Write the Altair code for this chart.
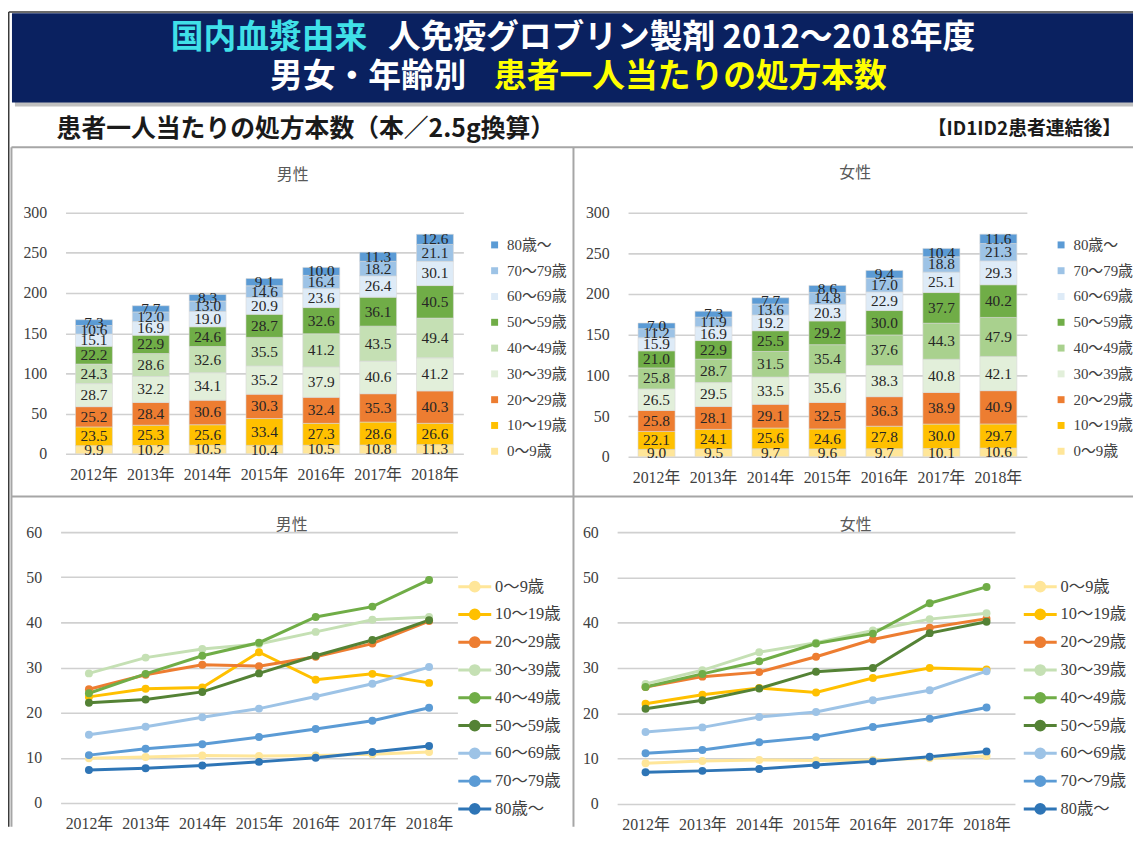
import altair as alt
import pandas as pd

YEARS = ["2012年", "2013年", "2014年", "2015年", "2016年", "2017年", "2018年"]
AGES = ["0〜9歳", "10〜19歳", "20〜29歳", "30〜39歳", "40〜49歳",
        "50〜59歳", "60〜69歳", "70〜79歳", "80歳〜"]

# 男性
M_00 = [9.9, 10.2, 10.5, 10.4, 10.5, 10.8, 11.3]
M_10 = [23.5, 25.3, 25.6, 33.4, 27.3, 28.6, 26.6]
M_20 = [25.2, 28.4, 30.6, 30.3, 32.4, 35.3, 40.3]
M_30 = [28.7, 32.2, 34.1, 35.2, 37.9, 40.6, 41.2]
M_40 = [24.3, 28.6, 32.6, 35.5, 41.2, 43.5, 49.4]
M_50 = [22.2, 22.9, 24.6, 28.7, 32.6, 36.1, 40.5]
M_60 = [15.1, 16.9, 19.0, 20.9, 23.6, 26.4, 30.1]
M_70 = [10.6, 12.0, 13.0, 14.6, 16.4, 18.2, 21.1]
M_80 = [7.3, 7.7, 8.3, 9.1, 10.0, 11.3, 12.6]

# 女性
F_00 = [9.0, 9.5, 9.7, 9.6, 9.7, 10.1, 10.6]
F_10 = [22.1, 24.1, 25.6, 24.6, 27.8, 30.0, 29.7]
F_20 = [25.8, 28.1, 29.1, 32.5, 36.3, 38.9, 40.9]
F_30 = [26.5, 29.5, 33.5, 35.6, 38.3, 40.8, 42.1]
F_40 = [25.8, 28.7, 31.5, 35.4, 37.6, 44.3, 47.9]
F_50 = [21.0, 22.9, 25.5, 29.2, 30.0, 37.7, 40.2]
F_60 = [15.9, 16.9, 19.2, 20.3, 22.9, 25.1, 29.3]
F_70 = [11.2, 11.9, 13.6, 14.8, 17.0, 18.8, 21.3]
F_80 = [7.0, 7.3, 7.7, 8.6, 9.4, 10.4, 11.6]

MALE_SERIES = [M_00, M_10, M_20, M_30, M_40, M_50, M_60, M_70, M_80]
FEMALE_SERIES = [F_00, F_10, F_20, F_30, F_40, F_50, F_60, F_70, F_80]

BAR_COLORS_M = ["#FFE699", "#FFC000", "#ED7D31", "#E2EFDA", "#C5E0B4",
                "#70AD47", "#DEEBF7", "#9DC3E6", "#5B9BD5"]
BAR_COLORS_F = ["#FFE699", "#FFC000", "#ED7D31", "#E2EFDA", "#A9D18E",
                "#70AD47", "#DEEBF7", "#9DC3E6", "#5B9BD5"]
LINE_COLORS = ["#FFE699", "#FFC000", "#ED7D31", "#C5E0B4", "#70AD47",
               "#548235", "#9DC3E6", "#5B9BD5", "#2E75B6"]

TITLE1A = "国内血漿由来"
TITLE1B = "人免疫グロブリン製剤 2012～2018年度"
TITLE2A = "男女・年齢別"
TITLE2B = "患者一人当たりの処方本数"
SUBTITLE = "患者一人当たりの処方本数（本／2.5g換算）"
NOTE = "【ID1ID2患者連結後】"

SERIF = "Liberation Serif, Noto Sans CJK JP"
JP = "Noto Sans CJK JP"

rows = []
for sex, series in (("男性", MALE_SERIES), ("女性", FEMALE_SERIES)):
    for i, age in enumerate(AGES):
        for yr, v in zip(YEARS, series[i]):
            rows.append({"sex": sex, "age": age, "order": i, "year": yr, "value": v})
df = pd.DataFrame(rows)

LEG_PATH = "M-1.05,0L1.05,0M-0.28,0A0.28,0.28,0,1,1,0.28,0A0.28,0.28,0,1,1,-0.28,0Z"

# page origin of the first (top-left) plot area: decorations are placed relative to it
OX, OY = 61, 211


def x_axis():
    return alt.Axis(title=None, labelAngle=0, domain=False, ticks=False, grid=False,
                    labelPadding=13, labelFont=SERIF, labelFontSize=16,
                    labelColor="#404040")


def y_axis(vals, pad):
    return alt.Axis(title=None, values=vals, domain=False, ticks=False, grid=True,
                    gridColor="#d0d0d0", gridWidth=1.6, labelPadding=pad,
                    labelFont=SERIF, labelFontSize=16, labelColor="#404040")


def panel_title(text, dx, offset):
    return alt.TitleParams(text, anchor="middle", dx=dx, offset=offset, fontSize=16,
                           font=JP, fontWeight="normal", color="#595959")


def one():
    return pd.DataFrame({"k": [0]})


def rect(x1, x2, y1, y2, color, opacity=1.0):
    return alt.Chart(one()).mark_rect(color=color, opacity=opacity).encode(
        x=alt.value(x1 - OX), x2=alt.value(x2 - OX), y=alt.value(y1 - OY), y2=alt.value(y2 - OY))


def hline(x1, x2, y, color, w):
    return alt.Chart(one()).mark_rule(color=color, strokeWidth=w).encode(
        x=alt.value(x1 - OX), x2=alt.value(x2 - OX), y=alt.value(y - OY))


def vline(x, y1, y2, color, w):
    return alt.Chart(one()).mark_rule(color=color, strokeWidth=w).encode(
        x=alt.value(x - OX), y=alt.value(y1 - OY), y2=alt.value(y2 - OY))


def text(t, x, y, color, size, align, weight="bold"):
    return alt.Chart(pd.DataFrame({"t": [t]})).mark_text(
        font=JP, fontSize=size, fontWeight=weight, color=color, align=align,
        baseline="middle").encode(text="t:N", x=alt.value(x - OX), y=alt.value(y - OY))


decor = [
    hline(8.75, 1142, 8.75, "#3a3a3a", 1.5),
    vline(8.75, 8.75, 830, "#3a3a3a", 1.5),
    rect(15, 1142, 14, 104, "#8c8c8c", 0.55),
    rect(12, 1142, 10, 100, "#0a2160"),
    text(TITLE1A, 370, 35, "#40E0E8", 33, "right"),
    text(TITLE1B, 391, 35, "#ffffff", 33, "left"),
    text(TITLE2A, 470, 74, "#ffffff", 33, "right"),
    text(TITLE2B, 498, 74, "#FFFF00", 33, "left"),
    text(SUBTITLE, 57, 127, "#1a1a1a", 25, "left"),
    text(NOTE, 1130, 127, "#1a1a1a", 19, "right"),
    hline(11.5, 1142, 145, "#a6a6a6", 2),
    hline(11.5, 1142, 497, "#a6a6a6", 2),
    vline(11.5, 145, 830, "#a6a6a6", 2),
    vline(578, 145, 830, "#a6a6a6", 2),
    text("男性", 295, 173, "#595959", 16, "center", "normal"),
]


def bar_panel(sex, w, h, xr, pad, lx, colors, title=None, extra=()):
    d = df[df.sex == sex]
    base = alt.Chart(d).transform_stack(
        stack="value", as_=["y0", "y1"], groupby=["year"],
        sort=[alt.SortField("order", "ascending")]
    ).transform_calculate(mid="(datum.y0 + datum.y1) / 2")
    xs = alt.Scale(paddingInner=0.35, paddingOuter=0.175, range=xr)
    ys = alt.Scale(domain=[0, 300], nice=False)
    bars = base.mark_bar(stroke="#d9d9d9", strokeWidth=0.6).encode(
        x=alt.X("year:N", sort=YEARS, scale=xs, axis=x_axis()),
        y=alt.Y("y0:Q", scale=ys, axis=y_axis([0, 50, 100, 150, 200, 250, 300], pad)),
        y2="y1:Q",
        color=alt.Color("age:N", scale=alt.Scale(domain=AGES[::-1], range=colors[::-1]),
                        legend=alt.Legend(title=None, orient="none", legendX=lx, legendY=25,
                                          symbolType="square", symbolSize=49,
                                          symbolStrokeWidth=0, labelFont=SERIF,
                                          labelFontSize=15, labelColor="#404040",
                                          labelOffset=5, rowPadding=10.0, padding=0)),
    )
    labels = base.mark_text(font=SERIF, fontSize=15.5, color="#262626").encode(
        x=alt.X("year:N", sort=YEARS),
        y=alt.Y("mid:Q"),
        text=alt.Text("value:Q", format=".1f"),
    )
    ch = alt.layer(*extra, bars, labels).properties(width=w, height=h)
    if title is not None:
        ch = ch.properties(title=title)
    return ch


def line_panel(sex, w, h, dx, lx):
    d = df[df.sex == sex]
    xx = alt.X("year:N", sort=YEARS, scale=alt.Scale(type="point", padding=0.5), axis=x_axis())
    yy = alt.Y("value:Q", scale=alt.Scale(domain=[0, 60], nice=False),
               axis=y_axis([0, 10, 20, 30, 40, 50, 60], 19))
    leg = alt.Legend(title=None, orient="none", legendX=lx, legendY=37.5,
                     symbolType=LEG_PATH, symbolSize=1000, symbolStrokeWidth=3,
                     labelFont=SERIF, labelFontSize=16.5, labelColor="#404040",
                     labelOffset=3, rowPadding=0, padding=0)
    sc = alt.Scale(domain=AGES, range=LINE_COLORS)
    lines = alt.Chart(d).mark_line(strokeWidth=3).encode(
        x=xx, y=yy, stroke=alt.Stroke("age:N", scale=sc, legend=leg))
    pts = alt.Chart(d).mark_point(filled=True, size=64, opacity=1, strokeWidth=0).encode(
        x=xx, y=yy, fill=alt.Fill("age:N", scale=sc, legend=leg))
    return alt.layer(lines, pts).properties(width=w, height=h, title=panel_title(sex, dx, -9))


# plot areas (page px): TL 66-467 (col starts 61), TR 633-1035 (col starts 622), BL 61-461, BR 622-1023
tl = bar_panel("男性", 406, 243, [5, 406], 14, 430, BAR_COLORS_M, extra=decor)
tr = bar_panel("女性", 413, 246, [11, 413], 8, 440, BAR_COLORS_F,
               title=panel_title("女性", 33.5, 24))
bl = line_panel("男性", 400, 273, 33, 400)
br = line_panel("女性", 401, 274, 40, 409)

chart = alt.concat(tl, tr, bl, br, columns=2, spacing={"row": 76, "column": 155},
                   bounds="flush").resolve_scale(
    x="independent", y="independent",
    color="independent", fill="independent", stroke="independent"
).properties(padding=0).configure_view(stroke=None)

chart.save("out.html", embed_options={"renderer": "svg", "actions": False})
